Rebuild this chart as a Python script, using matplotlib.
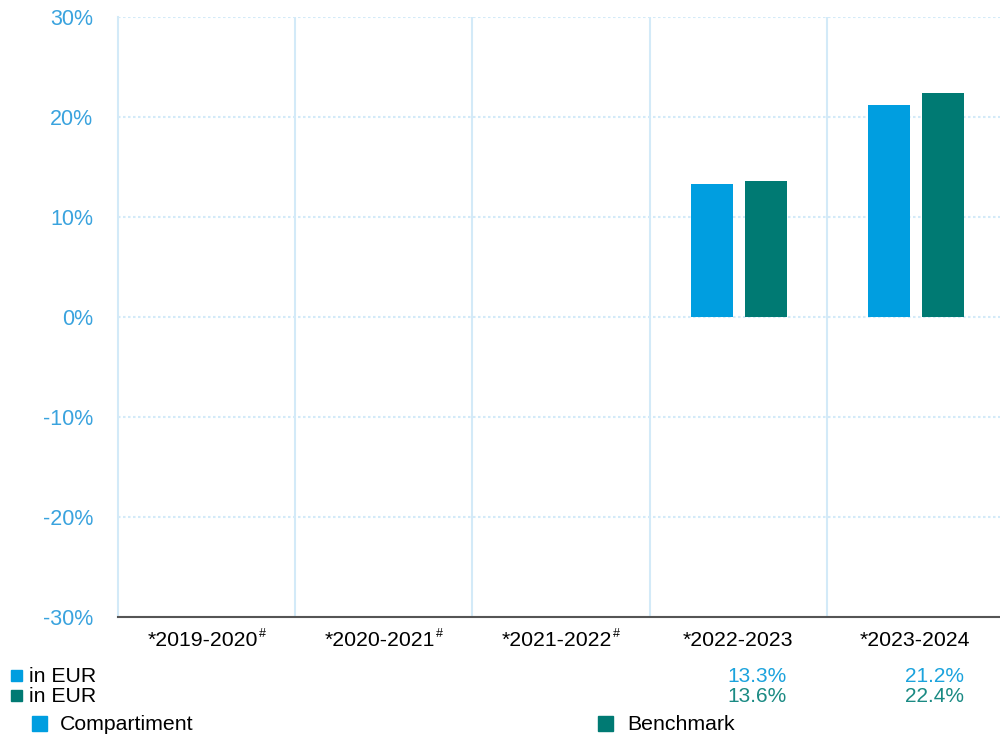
import numpy as np
import matplotlib.pyplot as plt
from matplotlib.patches import Rectangle
from matplotlib.transforms import blended_transform_factory

plt.rcParams['font.family'] = ['Liberation Sans', 'DejaVu Sans']

periods = ['*2019-2020', '*2020-2021', '*2021-2022', '*2022-2023', '*2023-2024']
flagged = [True, True, True, False, False]   # periods marked with '#'
fund = [np.nan, np.nan, np.nan, 13.3, 21.2]
bench = [np.nan, np.nan, np.nan, 13.6, 22.4]
yticks = [-30, -20, -10, 0, 10, 20, 30]
series_names = ['Compartiment', 'Benchmark']
row_label = 'in EUR'

c_fund = '#009ee0'
c_bench = '#007a73'
c_fund_txt = '#1ba3dd'
c_bench_txt = '#1a8a83'
grid_c = '#d3eaf8'

fig = plt.figure(figsize=(10, 7.42), dpi=100)
ax = fig.add_axes([0.118, 0.1685, 0.886, 0.8086])

x = np.arange(len(periods))
w = 0.237
ax.bar(x - 0.147, fund, w, color=c_fund, zorder=3)
ax.bar(x + 0.155, bench, w, color=c_bench, zorder=3)

ax.set_xlim(-0.5, len(periods) - 0.5)
ax.set_ylim(-30, 30)
ax.set_yticks(yticks)
ax.set_yticklabels([f'{v}%' for v in yticks], color='#3aa3de', fontsize=15.5)
ax.set_xticks(x)
ax.set_xticklabels([])
ax.tick_params(length=0)
ax.tick_params(axis='y', pad=18)

ax.yaxis.grid(True, color=grid_c, linestyle=(0, (1.2, 1.2)), linewidth=1.5, zorder=0)
for b in np.arange(0.5, len(periods) - 0.5, 1):
    ax.axvline(b, color=grid_c, linewidth=1.5, zorder=0)

for s in ['top', 'right']:
    ax.spines[s].set_visible(False)
ax.spines['left'].set_color(grid_c)
ax.spines['left'].set_linewidth(1.5)
ax.spines['bottom'].set_color('#555555')
ax.spines['bottom'].set_linewidth(1.5)

# period labels, '#' superscript on the flagged ones (label+# centred together)
tr = blended_transform_factory(ax.transData, fig.transFigure)
for i, (p, f) in enumerate(zip(periods, flagged)):
    xi = i - 0.022 if f else i
    t = ax.text(xi, 1 - 640 / 742, p, transform=tr, ha='center', va='center',
                fontsize=15.3, color='black')
    if f:
        ax.annotate('#', xy=(1.0, 1.0), xycoords=t, xytext=(0.5, 1.5),
                    textcoords='offset points', ha='left', va='top',
                    fontsize=9, color='black')

# table of values under the axis
for i in range(len(periods)):
    if not np.isnan(fund[i]):
        ax.text(i + 0.274, 1 - 676 / 742, f'{fund[i]:.1f}%', transform=tr,
                ha='right', va='center', fontsize=15, color=c_fund_txt)
    if not np.isnan(bench[i]):
        ax.text(i + 0.274, 1 - 696 / 742, f'{bench[i]:.1f}%', transform=tr,
                ha='right', va='center', fontsize=15, color=c_bench_txt)

for yy, col in [(676, c_fund), (696, c_bench)]:
    fig.patches.append(Rectangle((11 / 1000, 1 - (yy + 5) / 742), 11 / 1000, 11 / 742,
                                 transform=fig.transFigure, color=col))
    fig.text(29 / 1000, 1 - yy / 742, row_label, ha='left', va='center',
             fontsize=15.3, color='black')

# legend
for xs, xt, col, name in [(32, 60, c_fund, series_names[0]), (598, 627, c_bench, series_names[1])]:
    fig.patches.append(Rectangle((xs / 1000, 1 - 731 / 742), 15 / 1000, 15 / 742,
                                 transform=fig.transFigure, color=col))
    fig.text(xt / 1000, 1 - 724 / 742, name, ha='left', va='center',
             fontsize=15.3, color='black')

fig.savefig('out.png', dpi=100)
